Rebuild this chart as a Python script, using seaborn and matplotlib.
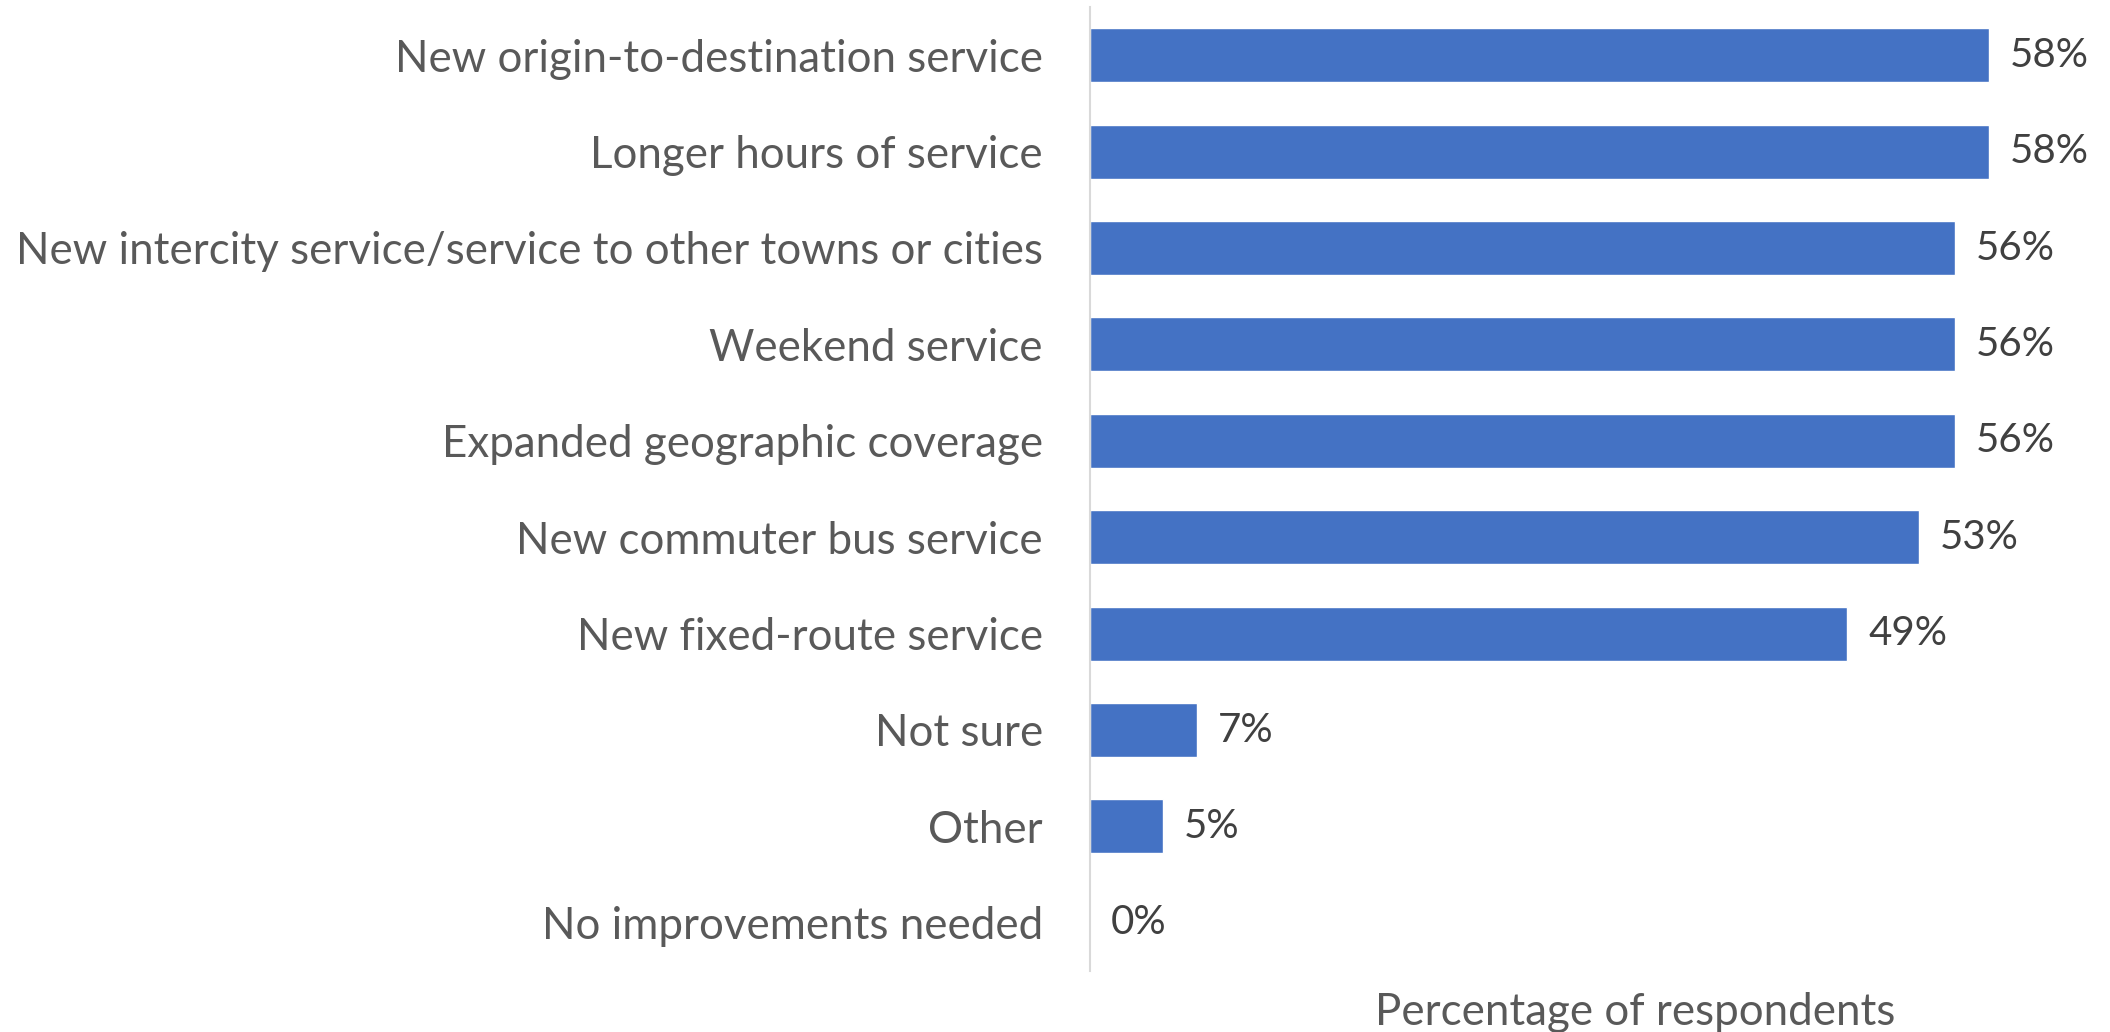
import matplotlib
matplotlib.use("Agg")
import matplotlib.pyplot as plt
import seaborn as sns
import pandas as pd

categories = [
    "New origin-to-destination service",
    "Longer hours of service",
    "New intercity service/service to other towns or cities",
    "Weekend service",
    "Expanded geographic coverage",
    "New commuter bus service",
    "New fixed-route service",
    "Not sure",
    "Other",
    "No improvements needed",
]
values = [57.8, 57.8, 55.6, 55.6, 55.6, 53.3, 48.7, 6.9, 4.7, 0.0]
x_label = "Percentage of respondents"

df = pd.DataFrame({"category": categories, "value": values})

sns.set_theme(style="white")
plt.rcParams["font.family"] = ["Lato", "DejaVu Sans"]

W, H = 2110, 1032
fig = plt.figure(figsize=(W / 100, H / 100), dpi=100)
ax_left, ax_right = 1090, 2110
ax_top, ax_bottom = 7, 971
ax = fig.add_axes([ax_left / W, 1 - ax_bottom / H, (ax_right - ax_left) / W, (ax_bottom - ax_top) / H])

sns.barplot(data=df, y="category", x="value", orient="h", color="#4472C4",
            saturation=1, width=0.56, ax=ax)

px_per_pct = 15.55
ax.set_xlim(0, (ax_right - ax_left) / px_per_pct)
ax.set_ylim(len(categories) - 0.5, -0.5)

for i, v in enumerate(values):
    ax.annotate(f"{v:.0f}%", xy=(v, i), xytext=(15, 0), textcoords="offset points",
                va="center", ha="left", fontsize=29, color="#404040")

for s in ["top", "right", "bottom"]:
    ax.spines[s].set_visible(False)
ax.spines["left"].set_color("#D9D9D9")
ax.spines["left"].set_linewidth(1.5)

ax.set_xticks([])
ax.set_ylabel("")
ax.tick_params(axis="y", length=0, pad=34, labelsize=31.6, labelcolor="#595959")
ax.set_xlabel(x_label, fontsize=31.6, color="#595959")
ax.xaxis.label.set_va("baseline")
ax.xaxis.set_label_coords((1635 - ax_left) / (ax_right - ax_left), -(1025 - ax_bottom) / (ax_bottom - ax_top))

fig.savefig("out.png", dpi=100)
